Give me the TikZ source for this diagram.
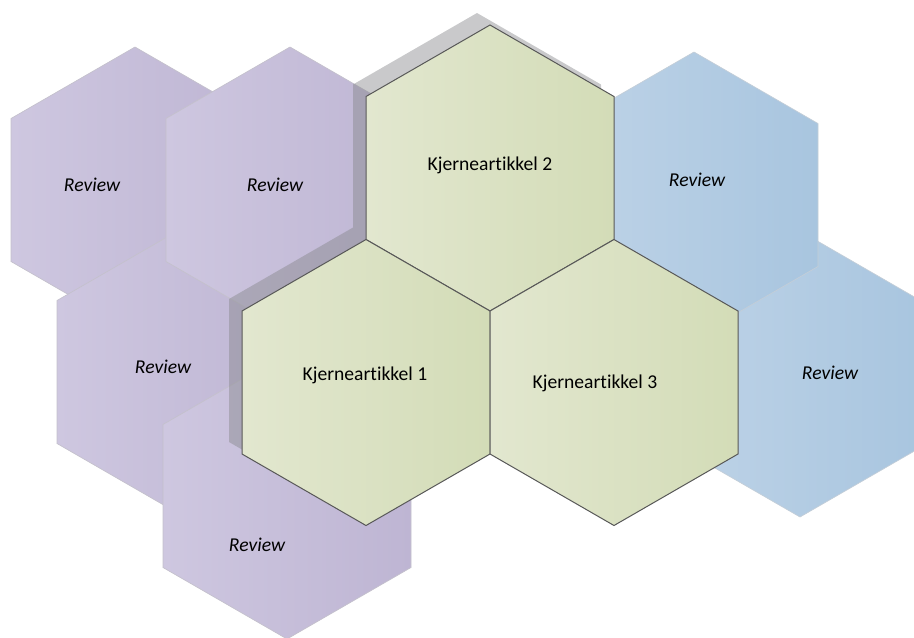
\documentclass[tikz,border=0pt]{standalone}
\usepackage{fontspec}
\setmainfont{Carlito}[Ligatures=NoCommon]

\definecolor{revleft}{RGB}{206,199,224}
\definecolor{revright}{RGB}{190,181,211}
\definecolor{revedge}{RGB}{196,193,204}
\definecolor{blueleft}{RGB}{190,211,231}
\definecolor{blueright}{RGB}{168,197,223}
\definecolor{blueedge}{RGB}{196,206,216}
\definecolor{coreleft}{RGB}{226,231,207}
\definecolor{coreright}{RGB}{211,220,183}
\definecolor{coreedge}{RGB}{88,88,88}

\tikzset{every picture/.style={line width=0.75pt}}
\tikzset{
  revhex/.style={left color=revleft,right color=revright,draw=revedge,line width=0.5pt},
  bluehex/.style={left color=blueleft,right color=blueright,draw=blueedge,line width=0.5pt},
  corehex/.style={left color=coreleft,right color=coreright,draw=coreedge,line width=0.75pt},
  hexshadow/.style={fill={rgb,255:red,132;green,133;blue,136},fill opacity=0.44},
  revtext/.style={inner sep=0.75pt,font=\fontsize{14.7}{17.6}\selectfont\itshape},
  coretext/.style={inner sep=0.75pt,font=\fontsize{14.7}{17.6}\selectfont}
}

\begin{document}
\begin{tikzpicture}[x=0.75pt,y=0.75pt,yscale=-1,xscale=1]
\useasboundingbox (0,0) rectangle (914,637);

%Shape: Hexagon [review, far left]
\draw[revhex] (135,47) -- (259,118.5) -- (259,261.5) -- (135,333) -- (11,261.5) -- (11,118.5) -- cycle ;
%Shape: Hexagon [review, middle left]
\draw[revhex] (181,229) -- (305,300.5) -- (305,443.5) -- (181,515) -- (57,443.5) -- (57,300.5) -- cycle ;
%Shape: Hexagon [review, upper left]
\draw[revhex] (290,47) -- (414,118.5) -- (414,261.5) -- (290,333) -- (166,261.5) -- (166,118.5) -- cycle ;
%Shape: Hexagon [review, bottom]
\draw[revhex] (287,353) -- (411,424.5) -- (411,567.5) -- (287,639) -- (163,567.5) -- (163,424.5) -- cycle ;
%Shape: Hexagon [review, lower right]
\draw[bluehex] (800,231) -- (924,302.5) -- (924,445.5) -- (800,517) -- (676,445.5) -- (676,302.5) -- cycle ;
%Shape: Hexagon [review, upper right]
\draw[bluehex] (694,52) -- (818,123.5) -- (818,266.5) -- (694,338) -- (570,266.5) -- (570,123.5) -- cycle ;

%Shadow of the core hexagons
\fill[hexshadow] (477,13) -- (601,84.5) -- (601,227.5) -- (477,299) -- (353,227.5) -- (353,84.5) -- cycle
  (353,227.5) -- (477,299) -- (477,442) -- (353,513.5) -- (229,442) -- (229,299) -- cycle ;

%Shape: Hexagon [core 2]
\draw[corehex] (490,25) -- (614,96.5) -- (614,239.5) -- (490,311) -- (366,239.5) -- (366,96.5) -- cycle ;
%Shape: Hexagon [core 1]
\draw[corehex] (366,239.5) -- (490,311) -- (490,454) -- (366,525.5) -- (242,454) -- (242,311) -- cycle ;
%Shape: Hexagon [core 3]
\draw[corehex] (614,239.5) -- (738,311) -- (738,454) -- (614,525.5) -- (490,454) -- (490,311) -- cycle ;

% Text Node
\node (core2) at (490,165) [coretext] {Kjerneartikkel 2};
% Text Node
\node (core1) at (365,375) [coretext] {Kjerneartikkel 1};
% Text Node
\node (core3) at (595,383) [coretext] {Kjerneartikkel 3};
% Text Node
\node (rev1) at (92,185) [revtext] {Review};
% Text Node
\node (rev2) at (275,185) [revtext] {Review};
% Text Node
\node (rev3) at (163,367) [revtext] {Review};
% Text Node
\node (rev5) at (257,545) [revtext] {Review};
% Text Node
\node (rev6) at (697,180) [revtext] {Review};
% Text Node
\node (rev7) at (830,373) [revtext] {Review};

\end{tikzpicture}
\end{document}
